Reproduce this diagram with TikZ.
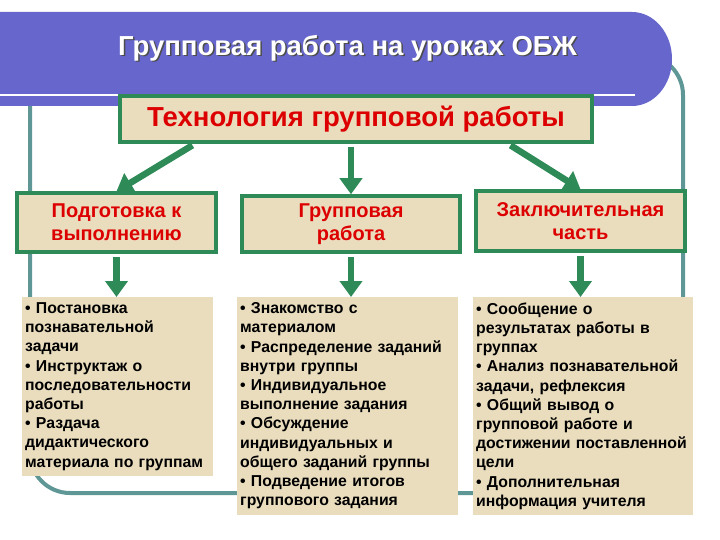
\documentclass[tikz,border=0pt]{standalone}
\usepackage{fontspec}
\setmainfont{Liberation Sans}
\usetikzlibrary{arrows.meta}
\definecolor{bandblue}{RGB}{102,102,204}
\definecolor{framegreen}{RGB}{46,139,87}
\definecolor{paper}{RGB}{234,221,190}
\definecolor{loopteal}{RGB}{95,150,150}
\definecolor{headred}{RGB}{220,0,0}
\begin{document}
\begin{tikzpicture}[x=1pt,y=-1pt,>={Triangle[width=22pt,length=16pt]}]
	\tikzset{
		stage/.style={draw=framegreen, line width=3.5pt, fill=paper, text=headred,
				font=\bfseries\fontsize{20}{23}\selectfont, align=center, inner sep=0pt},
		detail/.style={fill=paper, anchor=north west, align=left, inner xsep=3pt, inner ysep=5.5pt,
				font=\bfseries\fontsize{15.8}{19.2}\selectfont},
		flow/.style={->, draw=framegreen, line width=6.5pt, shorten <=3pt},
	}
	\useasboundingbox (0,0) rectangle (720,540);
	% frame line behind everything
	\draw[loopteal, line width=4pt, rounded corners=40pt] (30,55) rectangle (683,493);
	% title band
	\fill[bandblue] (0,12) -- (632,12) arc[start angle=-90, end angle=90, x radius=40, y radius=47]
		-- (0,106) -- cycle;
	\draw[white, line width=2pt] (0,95) -- (635,95);
	\node[text=black!70, font=\bfseries\fontsize{27.5}{30}\selectfont] (bandShadow) at (349,49.5) {Групповая работа на уроках ОБЖ};
	\node[text=white, font=\bfseries\fontsize{27.5}{30}\selectfont] (band) at (347.5,48) {Групповая работа на уроках ОБЖ};

	% boxes
	\node[stage, minimum width=472pt, minimum height=46pt, font=\bfseries\fontsize{27.5}{30}\selectfont]
		(tech) at (356,119) {Технология групповой работы};
	\node[stage, minimum width=199pt, minimum height=59pt] (prep) at (116.5,222.5) {Подготовка к\\выполнению};
	\node[stage, minimum width=218pt, minimum height=56pt] (work) at (351,224) {Групповая\\работа};
	\node[stage, minimum width=209pt, minimum height=60pt] (final) at (580.5,221) {Заключительная\\часть};

	\node[detail, text width=185pt] (prepTxt) at (22,297) {• Постановка\\познавательной\\задачи\\• Инструктаж о\\последовательности\\работы\\• Раздача\\дидактического\\материала по группам};
	\node[detail, text width=215pt] (workTxt) at (237,297) {• Знакомство с\\материалом\\• Распределение заданий\\внутри группы\\• Индивидуальное\\выполнение задания\\• Обсуждение\\индивидуальных и\\общего заданий группы\\• Подведение итогов\\группового задания};
	\node[detail, text width=214pt] (finalTxt) at (473,297) {• Сообщение о\\результатах работы в\\группах\\• Анализ познавательной\\задачи, рефлексия\\• Общий вывод о\\групповой работе и\\достижении поставленной\\цели\\• Дополнительная\\информация учителя};

	% arrows
	\draw[flow] ([xshift=-161pt]tech.south) -- (prep.north);
	\draw[flow] (tech.south -| work.north) -- (work.north);
	\draw[flow] ([xshift=152pt]tech.south) -- (final.north);
	\foreach \s in {prep,work,final}
		{
			\draw[flow] (\s.south) -- (\s.south |- \s Txt.north);
		}
\end{tikzpicture}
\end{document}
